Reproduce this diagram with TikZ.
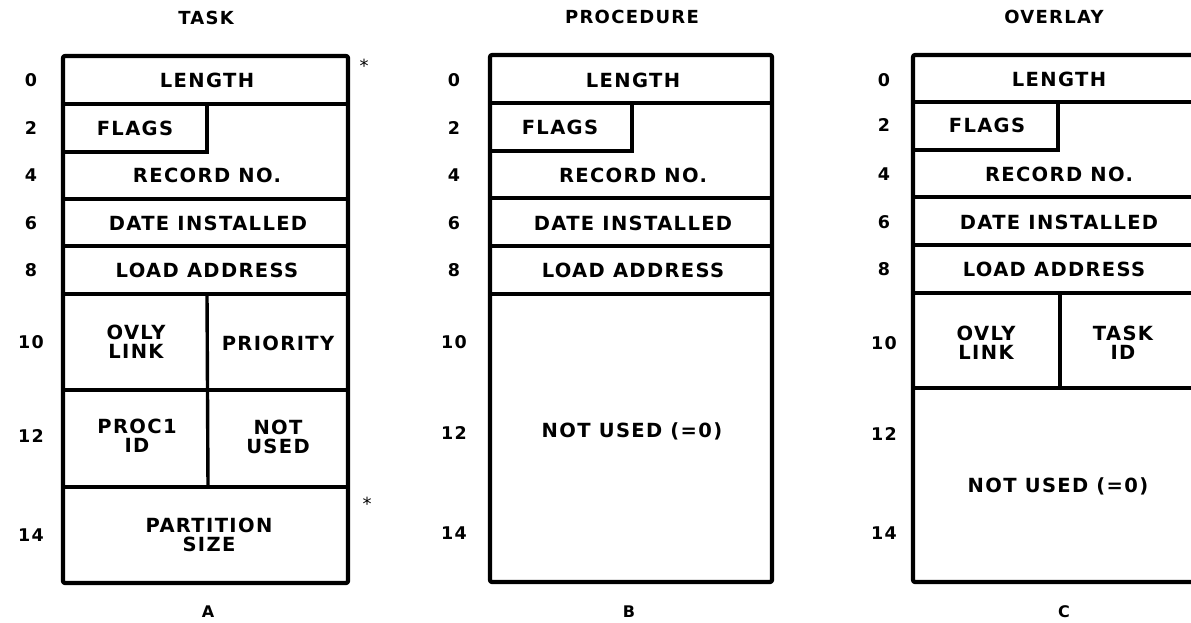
\documentclass[tikz,border=0pt]{standalone}
\usepackage{fontspec}
\newfontfamily\labfont{DejaVu Sans}[LetterSpace=7]
\begin{document}
\begin{tikzpicture}[x=1pt,y=-1pt,
  outer/.style={line width=4.2pt, line join=round, rounded corners=2pt},
  inner/.style={line width=3.4pt, line cap=round},
  txt/.style={font=\labfont\bfseries\fontsize{19.5}{19.5}\selectfont, align=center, inner sep=0pt},
  num/.style={font=\labfont\bfseries\fontsize{17.5}{17.5}\selectfont, inner sep=0pt},
  ttl/.style={font=\labfont\bfseries\fontsize{18}{18}\selectfont, inner sep=0pt},
  sub/.style={font=\labfont\bfseries\fontsize{16}{16}\selectfont, inner sep=0pt},
  star/.style={font=\labfont\fontsize{18}{18}\selectfont, inner sep=0pt}]
\useasboundingbox (0,0) rectangle (1191,622);
\clip (0,0) rectangle (1191,622);
\fill[white] (0,0) rectangle (1191,622);

% ---------------- TASK ----------------
\node[ttl] (tTitle) at (206,18) {TASK};
\draw[outer] (63,56) rectangle (348,583);
\draw[inner] (63,104) -- (348,104);
\draw[inner] (63,152) -- (207,152) -- (207,104);
\draw[inner] (63,199) -- (348,199);
\draw[inner] (63,246) -- (348,246);
\draw[inner] (63,294) -- (348,294);
\draw[inner] (63,390) -- (348,390);
\draw[inner] (63,487) -- (348,487);
\draw[inner] (207,294) -- (208,487);
\node[txt] (tLen) at (207,80) {LENGTH};
\node[txt] (tFlags) at (135,128) {FLAGS};
\node[txt] (tRec) at (207,175) {RECORD NO.};
\node[txt] (tDate) at (208,223) {DATE INSTALLED};
\node[txt] (tLoad) at (207,270) {LOAD ADDRESS};
\node[txt] (tOvly) at (136,342) {OVLY\\LINK};
\node[txt] (tPrio) at (278,343) {PRIORITY};
\node[txt] (tProc) at (137,436) {PROC1\\ID};
\node[txt] (tNot) at (278,437) {NOT\\USED};
\node[txt] (tPart) at (209,535) {PARTITION\\SIZE};
\node[star] (tS1) at (364,66) {*};
\node[star] (tS2) at (367,504) {*};
\node[sub] (tA) at (208,612) {A};
\foreach \n/\y [count=\i] in {0/80,2/128,4/175,6/223,8/270,10/342,12/436,14/535}
  \node[num] (tn\i) at (31,\y) {\n};

% ---------------- PROCEDURE ----------------
\node[ttl] (pTitle) at (632,17) {PROCEDURE};
\draw[outer] (490,55) rectangle (772,582);
\draw[inner] (490,103) -- (772,103);
\draw[inner] (490,151) -- (632,151) -- (632,103);
\draw[inner] (490,198) -- (772,198);
\draw[inner] (490,246) -- (772,246);
\draw[inner] (490,294) -- (772,294);
\node[txt] (pLen) at (633,80) {LENGTH};
\node[txt] (pFlags) at (560,127) {FLAGS};
\node[txt] (pRec) at (633,175) {RECORD NO.};
\node[txt] (pDate) at (633,223) {DATE INSTALLED};
\node[txt] (pLoad) at (633,270) {LOAD ADDRESS};
\node[txt] (pNot) at (632,431) {NOT USED (=0)};
\node[sub] (pB) at (629,612) {B};
\foreach \n/\y [count=\i] in {0/80,2/128,4/175,6/223,8/270,10/342,12/433,14/533}
  \node[num] (pn\i) at (454,\y) {\n};

% ---------------- OVERLAY ----------------
\node[ttl] (oTitle) at (1054,17) {OVERLAY};
\draw[outer] (913,55) rectangle (1198,582);
\draw[inner] (913,102) -- (1198,102);
\draw[inner] (913,150) -- (1058,150) -- (1058,102);
\draw[inner] (913,197) -- (1198,197);
\draw[inner] (913,245) -- (1198,245);
\draw[inner] (913,293) -- (1198,293);
\draw[inner] (913,388) -- (1198,388);
\draw[inner] (1060,293) -- (1060,388);
\node[txt] (oLen) at (1059,79) {LENGTH};
\node[txt] (oFlags) at (987,125) {FLAGS};
\node[txt] (oRec) at (1059,174) {RECORD NO.};
\node[txt] (oDate) at (1059,222) {DATE INSTALLED};
\node[txt] (oLoad) at (1054,269) {LOAD ADDRESS};
\node[txt] (oOvly) at (986,343) {OVLY\\LINK};
\node[txt] (oTask) at (1123,343) {TASK\\ID};
\node[txt] (oNot) at (1058,486) {NOT USED (=0)};
\node[sub] (oC) at (1064,612) {C};
\foreach \n/\y [count=\i] in {0/80,2/125,4/174,6/222,8/269,10/343,12/434,14/533}
  \node[num] (on\i) at (884,\y) {\n};
\end{tikzpicture}
\end{document}
